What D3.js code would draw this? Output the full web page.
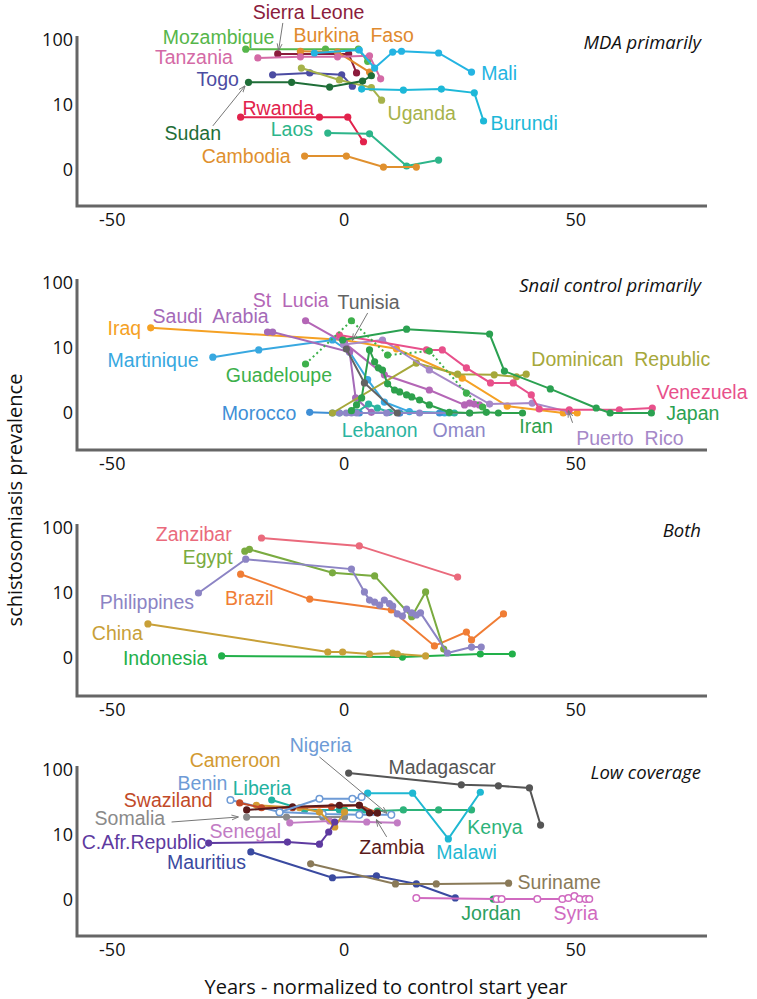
<!DOCTYPE html>
<html><head><meta charset="utf-8">
<script src="https://cdn.jsdelivr.net/npm/d3@7"></script>
<style>body{margin:0;background:#fff} svg{display:block} text{white-space:pre}</style>
</head><body>
<svg id="chart" width="757" height="999"></svg>
<script>
// ---------------- DATA ----------------
const xTicks = [-50, 0, 50];
const yTicks = [0, 10, 100];
const panelTitles = ["MDA primarily", "Snail control primarily", "Both", "Low coverage"];
const xTitle = "Years - normalized to control start year";
const yTitle = "schistosomiasis prevalence";

// [year relative to control start, prevalence %]
const mdaSeries = [
  {name: "Mozambique", values: [[-21.1,73],[-3.9,73],[3.2,73],[5.2,48]]},
  {name: "Sierra Leone", values: [[-14.2,62],[1.1,62],[2.8,32]]},
  {name: "Burkina Faso", values: [[-9.3,68],[-1.3,66],[5.6,33]]},
  {name: "Tanzania", values: [[-18.5,54],[-9.3,56],[-1.3,56],[5.6,58],[8.0,26]]},
  {name: "Togo", values: [[-15.3,30],[-7.3,32],[-0.4,30],[1.9,20]]},
  {name: "Uganda", values: [[-9.1,38],[-0.9,25],[6.0,19],[8.2,12]]},
  {name: "Sudan", values: [[-20.5,23],[-11.2,23],[-3.0,19.4],[4.1,24],[6.0,29]]},
  {name: "Mali", values: [[-6.3,64],[3.4,71],[6.7,38],[10.6,66],[12.5,68],[20.5,64],[27.6,33]]},
  {name: "Burundi", values: [[3.9,18],[12.9,17.4],[21.1,18],[28.2,15.7],[30.2,5.3]]},
  {name: "Rwanda", values: [[-22.2,6.2],[-5.2,6.2],[0.9,6.2],[4.3,2.0]]},
  {name: "Laos", values: [[-3.4,3.1],[5.6,3.0],[13.6,0.18],[20.5,0.5]]},
  {name: "Cambodia", values: [[-8.4,0.75],[0.6,0.75],[8.6,0.13],[15.7,0.13]]}
];
const snailSeries = [
  {name: "Iraq", values: [[-41.6,21],[0,13.5],[11.4,9.7],[25.6,2.8],[35.3,0.33],[47.4,0],[50.4,0]]},
  {name: "Martinique", values: [[-28.2,7.0],[-18.3,9.3],[-2.4,13.5],[1.3,8.6],[5.2,2.6],[8.8,0.56],[14.2,0.06],[21.8,0]]},
  {name: "Saudi Arabia", values: [[-16.4,18],[-15.3,18],[1.3,8.6],[2.6,0.83],[6.0,0.03],[12.1,0]]},
  {name: "St Lucia", values: [[-8.2,27],[0.2,12.1],[8.8,3.3],[18.5,1.47],[26.1,0.39],[27.2,0.5],[28.2,0.44],[29.3,0.39]]},
  {name: "Morocco", values: [[-7.3,0.03],[-2.4,0],[3.4,0],[12.1,0],[20.7,0]]},
  {name: "Lebanon", values: [[-0.9,0],[2.8,0.03],[5.4,0.44],[7.3,0.23],[9.9,0.03],[22.8,0],[23.9,0]]},
  {name: "Oman", values: [[-0.9,0],[0.6,0],[1.7,0],[2.8,0],[9.3,0],[16.4,0],[27.2,0]]},
  {name: "Dominican Republic", values: [[-2.4,0],[15.7,5.5],[24.6,3.4],[32.5,3.3],[37.3,3.0],[39.4,3.4]]},
  {name: "Puerto Rico", values: [[0,11.4],[8.4,13.5],[18.5,4.1],[31.5,0.44],[40.7,0.5],[48.5,0.06]]},
  {name: "Venezuela", values: [[-0.9,16.2],[17.9,9.3],[21.3,9.3],[26.5,4.5],[31.7,2.2],[36.6,2.2],[40.5,1.05],[42.2,0.18],[48.7,0.14],[59.5,0.14],[66.6,0.23]]},
  {name: "Japan", values: [[-0.2,13.5],[13.6,20],[31.5,16.8],[34.7,3.9],[44.6,1.57],[54.5,0.23],[57.5,0],[66.4,0]]},
  {name: "Iran", values: [[1.7,0.1],[2.8,0.39],[3.9,0.83],[5.6,9.3],[6.7,5.8],[7.5,4.5],[8.4,4.1],[9.5,2.1],[11.0,1.47],[12.1,1.3],[13.6,1.05],[14.7,0.9],[16.4,0.69],[18.5,0.39],[22.8,0.03],[27.2,0],[30.8,0.03],[33.4,0],[38.6,0]]},
  {name: "Guadeloupe", values: [[-8.2,5.3],[1.7,27],[9.5,7.6],[18.5,8.9],[26.5,1.2],[30.0,0.28]]},
  {name: "Tunisia", values: [[0.6,9.6],[4.5,2.2],[11.6,0]]}
];
const bothSeries = [
  {name: "Indonesia", values: [[-26.3,0.09],[12.7,0.04],[29.5,0.18],[36.4,0.18]]},
  {name: "China", values: [[-42.2,2.7],[-3.4,0.28],[-0.2,0.28],[5.6,0.18],[10.6,0.23],[11.6,0.18],[17.7,0.09]]},
  {name: "Brazil", values: [[-22.2,20],[-7.3,7.9],[10.3,5.1],[19.6,0.63],[26.5,1.76],[27.6,1.05],[34.5,4.3]]},
  {name: "Zanzibar", values: [[-17.7,71],[3.4,54],[24.6,18]]},
  {name: "Egypt", values: [[-21.3,45],[-20.3,48],[-2.4,21],[6.7,18.8],[14.7,3.8],[17.7,10.4],[21.6,0.44]]},
  {name: "Philippines", values: [[-31.3,10],[-21.1,34],[1.7,24],[4.5,10.4],[5.6,7.6],[6.7,7.0],[7.8,6.2],[8.8,7.6],[9.9,6.6],[10.6,6.0],[11.6,4.3],[12.7,3.9],[13.6,5.3],[14.7,4.5],[15.7,4.1],[16.6,4.5],[22.4,0.23],[27.6,0.56],[29.7,0.56]]}
];
const lowSeries = [
  {name: "Madagascar", values: [[1.1,90],[25.4,60],[33.4,58],[40.1,54],[42.5,14.5]]},
  {name: "Kenya", values: [[0.2,25],[7.3,24],[12.9,25],[20.5,25],[27.6,25]]},
  {name: "Malawi", values: [[5.2,45],[14.9,45],[22.6,8.6],[29.5,46.5]]},
  {name: "Liberia", values: [[-15.5,35.5],[-8.4,25],[-0.9,25],[4.5,25]]},
  {name: "Somalia", values: [[-20.9,19.4],[-12.3,19.4],[-4.5,19.4],[0.2,19.4]]},
  {name: "Senegal", values: [[-11.6,15.7],[-3.0,16.8],[5.0,16.2],[11.6,15.7]]},
  {name: "Benin", values: [[-24.4,35.5],[-13.8,23.2],[-4.5,21.6],[3.4,21],[10.3,21]]},
  {name: "Cameroon", values: [[-18.8,29.5],[-9.5,27],[-5.2,23.2],[-1.9,13.5],[0.2,23.2]]},
  {name: "Swaziland", values: [[-22.4,32],[-17.7,27],[-11.0,27],[-2.6,28],[3.4,29.5],[7.3,22.4]]},
  {name: "Zambia", values: [[-20.9,25],[-11.0,28],[-0.9,29.5],[3.4,29.5],[5.6,22.4],[7.3,22.4]]},
  {name: "Nigeria", values: [[-13.8,23],[-5.2,37],[1.9,37],[3.9,39.5]]},
  {name: "C.Afr.Republic", values: [[-29.1,7.3],[-12.1,7.6],[-5.2,7.0],[-3.2,11.2],[-1.9,16.2]]},
  {name: "Mauritius", values: [[-20.0,5.1],[-2.4,1.4],[7.1,1.57],[15.7,0.9],[24.1,0.09]]},
  {name: "Suriname", values: [[-7.1,3.0],[11.2,0.9],[20.0,0.9],[35.6,0.96]]},
  {name: "Jordan", values: [[32.3,0.04],[33.4,0.04]]},
  {name: "Syria", values: [[15.7,0.09],[33.0,0.04],[34.1,0.04],[41.8,0.04],[47.2,0.04],[48.5,0.09],[49.8,0.18],[50.9,0.04],[52.2,0.04],[53.0,0.04]]}
];

// label anchors in data units [text, year, prevalence]
const mdaLabels = [
  ["Sierra Leone", -19.6, 262], ["Mozambique", -39.0, 111], ["Burkina  Faso", -10.8, 119],
  ["Tanzania", -40.7, 55], ["Togo", -31.7, 26], ["Sudan", -38.6, 3.1], ["Rwanda", -21.8, 8.9],
  ["Laos", -15.7, 3.8], ["Cambodia", -30.6, 0.75], ["Uganda", 9.5, 7.3], ["Mali", 29.7, 32], ["Burundi", 31.7, 4.9]
];
const snailLabels = [
  ["Iraq", -50.9, 21], ["Saudi  Arabia", -41.2, 32], ["St  Lucia", -19.6, 56], ["Tunisia", -1.3, 52],
  ["Martinique", -50.9, 6.2], ["Guadeloupe", -25.4, 3.3], ["Morocco", -26.3, 0], ["Lebanon", -0.4, -0.97],
  ["Oman", 19.2, -0.97], ["Iran", 37.9, -0.69], ["Dominican  Republic", 40.5, 6.5], ["Venezuela", 67.5, 1.3],
  ["Japan", 69.6, 0], ["Puerto  Rico", 50.2, -1.66]
];
const bothLabels = [
  ["Zanzibar", -40.5, 81.5], ["Egypt", -34.7, 37], ["Philippines", -52.6, 7.0],
  ["Brazil", -25.6, 8.1], ["China", -54.3, 1.66], ["Indonesia", -47.6, 0]
];
const lowLabels = [
  ["Madagascar", 9.7, 111], ["Malawi", 20.0, 5.1], ["Kenya", 26.7, 13.5], ["Liberia", -23.9, 54],
  ["Benin", -35.8, 64], ["Nigeria", -11.6, 235], ["Cameroon", -33.2, 142], ["Swaziland", -47.4, 35],
  ["Zambia", 3.4, 6.2], ["Somalia", -53.7, 18.4], ["Senegal", -28.9, 11.6], ["C.Afr.Republic", -56.5, 7.6],
  ["Mauritius", -38.1, 3.3], ["Suriname", 37.5, 1.05], ["Jordan", 25.4, -0.69], ["Syria", 45.3, -0.69]
];
// pointer arrows [from year, from prev, to year, to prev]
const mdaArrows = [[-13.1, 179, -14.0, 71], [-28.2, 4.3, -21.3, 20]];
const snailArrows = [[5.2, 35.5, 1.9, 13.5], [49.4, -0.49, 48.5, 0.09]];
const bothArrows = [];
const lowArrows = [[-5.2, 156, 9.3, 22.4], [9.3, 9.3, 7.1, 17.4], [-37.1, 16.2, -22.8, 19.4]];

// ---------------- STYLE ----------------
const colors = {
  "Sierra Leone": "#8b1c3c", "Mozambique": "#56b64a", "Burkina Faso": "#e08a2e", "Burkina  Faso": "#e08a2e",
  "Tanzania": "#d46aa6", "Togo": "#4c4ca2", "Sudan": "#1f6e38", "Rwanda": "#e2224c", "Laos": "#2db58a",
  "Cambodia": "#e0902e", "Uganda": "#a6b24a", "Mali": "#24b4e2", "Burundi": "#1db8d8",
  "Iraq": "#f5a124", "Saudi Arabia": "#a46ab8", "Saudi  Arabia": "#a46ab8", "St Lucia": "#b466b6", "St  Lucia": "#b466b6",
  "Tunisia": "#636363", "Martinique": "#38a8e0", "Guadeloupe": "#3db04b", "Morocco": "#3f8fd6",
  "Lebanon": "#2bb4a0", "Oman": "#8d86c8", "Iran": "#2da14c", "Dominican Republic": "#a6a83a",
  "Dominican  Republic": "#a6a83a", "Venezuela": "#e8508b", "Japan": "#2ba151", "Puerto Rico": "#a688c8",
  "Puerto  Rico": "#a688c8",
  "Zanzibar": "#ea6a7c", "Egypt": "#7aab40", "Philippines": "#8c84c4", "Brazil": "#f07d35",
  "China": "#c8a038", "Indonesia": "#22b04a",
  "Madagascar": "#555555", "Malawi": "#1fb8d2", "Kenya": "#2db37a", "Liberia": "#22b2a0",
  "Benin": "#6e9bd6", "Nigeria": "#6e9bd6", "Cameroon": "#d29a32", "Swaziland": "#c24a28",
  "Zambia": "#5a1a1a", "Somalia": "#8a8a8a", "Senegal": "#c27cc4", "C.Afr.Republic": "#5e3aa0",
  "Mauritius": "#3a4aa0", "Suriname": "#8a7a58", "Jordan": "#2ca060", "Syria": "#d06ac0"
};
const openMarkers = new Set(["Syria", "Nigeria", "Benin"]);
const dottedSeries = new Set(["Guadeloupe"]);

const layout = [
  {top: 40, zero: 170, base: 206},
  {top: 283, zero: 413, base: 450},
  {top: 528, zero: 658, base: 696},
  {top: 770, zero: 900, base: 936}
];
const panels = [
  {series: mdaSeries, labels: mdaLabels, arrows: mdaArrows},
  {series: snailSeries, labels: snailLabels, arrows: snailArrows},
  {series: bothSeries, labels: bothLabels, arrows: bothArrows},
  {series: lowSeries, labels: lowLabels, arrows: lowArrows}
];

// ---------------- DRAW ----------------
const svg = d3.select("#chart");
svg.append("defs").append("marker")
  .attr("id", "arr").attr("viewBox", "0 0 10 10").attr("refX", 9).attr("refY", 5)
  .attr("markerWidth", 7).attr("markerHeight", 7).attr("orient", "auto-start-reverse")
  .append("path").attr("d", "M0,1.5L10,5L0,8.5").attr("fill", "none").attr("stroke", "#777").attr("stroke-width", 1.3);

const x = d3.scaleLinear().domain([-57.5, 78.4]).range([77, 707]);
const tickFont = "'Open Sans', 'DejaVu Sans', sans-serif";
const labelFont = "'Liberation Sans', Arial, sans-serif";
const fmt = d => String(d);

panels.forEach((p, i) => {
  const L = layout[i];
  const y = d3.scaleSymlog().constant(1.25).domain([0, 100]).range([L.zero, L.top]);
  const g = svg.append("g");

  // axis frame
  g.append("path")
    .attr("d", `M${x.range()[0]},${L.top - 4}V${L.base}H${x.range()[1]}`)
    .attr("fill", "none").attr("stroke", "#666").attr("stroke-width", 3);

  const ax = g.append("g").attr("transform", `translate(0,${L.base})`)
    .call(d3.axisBottom(x).tickValues(xTicks).tickSize(0).tickPadding(7).tickFormat(fmt));
  ax.select(".domain").remove();
  ax.selectAll("text").attr("font-family", tickFont).attr("font-size", 18).attr("fill", "#111");

  const ay = g.append("g").attr("transform", `translate(${x.range()[0]},0)`)
    .call(d3.axisLeft(y).tickValues(yTicks).tickSize(0).tickPadding(4).tickFormat(fmt));
  ay.select(".domain").remove();
  ay.selectAll("text").attr("font-family", tickFont).attr("font-size", 18).attr("fill", "#111");

  // title
  g.append("text").attr("x", 701).attr("y", L.top + 3).attr("dy", "0.35em")
    .attr("text-anchor", "end").attr("font-family", tickFont).attr("font-style", "italic")
    .attr("font-size", 18.5).attr("fill", "#111").text(panelTitles[i]);

  const line = d3.line().x(d => x(d[0])).y(d => y(d[1]));

  p.series.forEach(s => {
    const c = colors[s.name];
    g.append("path").datum(s.values).attr("d", line)
      .attr("fill", "none").attr("stroke", c).attr("stroke-width", 2)
      .attr("stroke-dasharray", dottedSeries.has(s.name) ? "2,3" : null);
    const open = openMarkers.has(s.name);
    g.selectAll(null).data(s.values).join("circle")
      .attr("cx", d => x(d[0])).attr("cy", d => y(d[1]))
      .attr("r", open ? 3.3 : 3.6)
      .attr("fill", open ? "#fff" : c)
      .attr("stroke", open ? c : "none").attr("stroke-width", 1.5);
  });

  p.arrows.forEach(a => {
    g.append("line").attr("x1", x(a[0])).attr("y1", y(a[1])).attr("x2", x(a[2])).attr("y2", y(a[3]))
      .attr("stroke", "#777").attr("stroke-width", 1).attr("marker-end", "url(#arr)");
  });

  p.labels.forEach(l => {
    g.append("text").attr("x", x(l[1])).attr("y", y(l[2])).attr("dy", "0.35em")
      .attr("font-family", labelFont).attr("font-size", 19.5)
      .attr("fill", colors[l[0]]).text(l[0]);
  });
});

svg.append("text").attr("x", 386).attr("y", 987).attr("dy", "0.35em").attr("text-anchor", "middle")
  .attr("font-family", tickFont).attr("font-size", 20).attr("fill", "#111").text(xTitle);
svg.append("text").attr("transform", "translate(15,500) rotate(-90)").attr("dy", "0.35em")
  .attr("text-anchor", "middle").attr("font-family", tickFont).attr("font-size", 20)
  .attr("fill", "#111").text(yTitle);
</script>
</body></html>
